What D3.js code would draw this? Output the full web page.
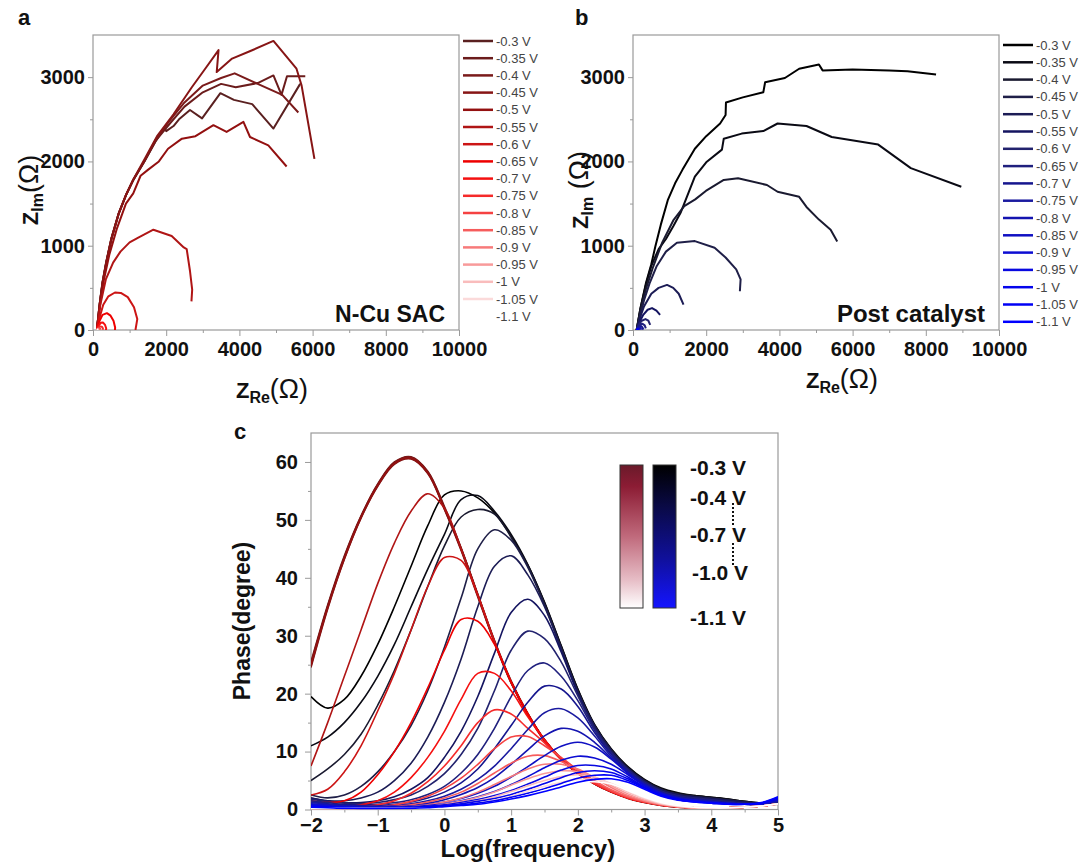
<!DOCTYPE html>
<html><head><meta charset="utf-8">
<script src="https://cdn.jsdelivr.net/npm/d3@7"></script>
<style>body{margin:0;background:#fff}</style>
</head><body><svg id="chart" width="1082" height="864"></svg>
<script>
// ---------------- DATA ----------------
const voltLabels = ["-0.3 V","-0.35 V","-0.4 V","-0.45 V","-0.5 V","-0.55 V","-0.6 V","-0.65 V","-0.7 V","-0.75 V","-0.8 V","-0.85 V","-0.9 V","-0.95 V","-1 V","-1.05 V","-1.1 V"];
const redColors = ["#5a2020","#6b1c1c","#7a1a1a","#871515","#931010","#b01515","#cc1515","#ee0000","#f51010","#f52a2a","#f54242","#f65c5c","#f77a7a","#f89a9a","#f9bcbc","#fbdada","#ffffff"];
const blueColors = ["#000000","#0a0a14","#1a1a30","#1f1f48","#1c1c55","#141460","#22226e","#20207e","#16168e","#1a1aa0","#1414b0","#1010c2","#0c0cd2","#0808e0","#0505ec","#0000f5","#0000ff"];

const zReTicks = [0,2000,4000,6000,8000,10000];
const zReMinor = [1000,3000,5000,7000,9000];
const zImTicks = [0,1000,2000,3000];
const zImMinor = [500,1500,2500];

// Nyquist, N-Cu SAC : [Z_Re, Z_Im] per potential
const nyquistA = [
 [[110,20],[180,300],[260,560],[360,800],[500,1080],[700,1380],[900,1600],[1100,1780],[1400,2000],[1700,2230],[1950,2400],[2000,2360],[2200,2420],[2350,2500],[2650,2610],[2980,2510],[3480,2810],[3850,2730],[4350,2680],[4930,2390],[5660,2920]],
 [[110,20],[185,310],[265,570],[370,810],[510,1090],[710,1390],[910,1610],[1110,1790],[1420,2010],[1720,2250],[2100,2450],[2500,2650],[3000,2820],[3500,2920],[3900,2880],[4500,2930],[4930,3020],[5150,2790],[5300,3010],[5800,3010]],
 [[110,20],[180,300],[255,555],[355,795],[495,1075],[695,1375],[895,1595],[1095,1775],[1395,1995],[1700,2250],[2050,2460],[2500,2700],[3000,2900],[3500,2990],[3870,3045],[4500,2920],[5170,2790],[5610,2580]],
 [[110,20],[185,310],[265,565],[365,805],[505,1085],[705,1385],[905,1605],[1105,1790],[1400,2020],[1750,2300],[2200,2560],[2700,2880],[3100,3120],[3430,3320],[3380,3060],[3800,3220],[4300,3310],[4930,3430],[5560,3100],[5700,2900],[6050,2030]],
 [[110,20],[200,320],[300,600],[450,900],[650,1200],[900,1500],[1100,1620],[1300,1830],[1500,1900],[1800,2000],[2050,2150],[2430,2270],[2800,2300],[3290,2430],[3650,2350],[4110,2470],[4290,2290],[4790,2190],[5290,1940]],
 [[110,20],[200,300],[350,600],[550,800],[750,930],[1000,1040],[1250,1100],[1650,1190],[2150,1115],[2480,980],[2560,960],[2650,700],[2710,480],[2690,340]],
 [[110,20],[180,150],[280,300],[420,400],[600,445],[760,440],[950,390],[1120,270],[1210,130],[1160,0]],
 [[110,10],[170,100],[260,180],[380,200],[480,170],[560,110],[605,30],[600,0]],
 [[110,5],[150,50],[210,85],[270,90],[330,60],[360,20],[355,0]],
 [[110,3],[140,25],[190,42],[240,40],[270,20],[270,2]],
 [[110,2],[130,15],[160,24],[190,18],[205,5]],
 [[110,1],[125,9],[145,14],[165,10],[175,2]],
 [[110,1],[120,6],[135,9],[150,6],[156,1]],
 [[110,1],[118,4],[130,6],[142,4],[146,1]],
 [[110,1],[116,3],[126,4],[136,3],[139,1]],
 [[110,1],[115,2],[123,3],[131,2],[133,1]],
 [[110,1],[114,2],[120,2],[126,2],[128,1]]
];

// Nyquist, post catalyst
const nyquistB = [
 [[100,0],[200,250],[350,550],[500,780],[610,990],[760,1250],[950,1540],[1150,1740],[1350,1900],[1690,2150],[2000,2300],[2380,2450],[2530,2550],[2540,2700],[3000,2760],[3560,2820],[3610,2940],[4150,2990],[4540,3100],[5080,3150],[5180,3080],[6000,3090],[7000,3080],[7500,3070],[8280,3030]],
 [[100,0],[200,250],[350,530],[500,760],[700,960],[900,1080],[1100,1230],[1300,1390],[1690,1820],[2000,1990],[2430,2140],[2480,2270],[2970,2330],[3560,2360],[3950,2450],[4740,2420],[5430,2290],[6700,2200],[7590,1920],[8970,1700]],
 [[100,0],[200,230],[350,480],[550,750],[800,1040],[1100,1300],[1400,1470],[1700,1550],[1990,1650],[2480,1780],[2870,1800],[3660,1720],[3950,1640],[4540,1580],[4740,1460],[5080,1310],[5400,1190],[5580,1050]],
 [[100,0],[180,150],[300,350],[450,550],[650,760],[900,930],[1200,1035],[1690,1055],[2230,975],[2530,860],[2820,720],[2940,600],[2920,460]],
 [[100,0],[180,130],[300,280],[500,430],[700,500],[930,535],[1100,500],[1250,430],[1380,300]],
 [[100,0],[170,90],[280,180],[400,240],[520,260],[640,230],[740,180]],
 [[100,0],[150,60],[240,110],[340,130],[420,110],[470,60]],
 [[100,0],[140,40],[200,70],[260,75],[320,55],[350,20]],
 [[100,0],[130,25],[170,45],[220,48],[260,30],[280,5]],
 [[100,0],[125,18],[160,30],[195,30],[220,15],[225,3]],
 [[100,0],[120,12],[145,20],[170,18],[190,6]],
 [[100,0],[117,9],[138,15],[158,13],[172,4]],
 [[100,0],[115,7],[132,11],[150,9],[160,3]],
 [[100,0],[113,5],[127,8],[142,7],[150,2]],
 [[100,0],[111,4],[123,6],[136,5],[142,2]],
 [[100,0],[110,3],[120,5],[131,4],[136,1]],
 [[100,0],[109,2],[117,4],[127,3],[131,1]]
];

// Bode phase: common log(frequency) grid
const logFreq = [-2,-1.75,-1.5,-1.25,-1,-0.75,-0.5,-0.25,0,0.25,0.5,0.75,1,1.25,1.5,1.75,2,2.25,2.5,2.75,3,3.25,3.5,3.75,4,4.25,4.5,4.75,5];
const phaseTicks = [0,10,20,30,40,50,60];
const phaseMinor = [5,15,25,35,45,55];
const logTicks = [-2,-1,0,1,2,3,4,5];
const logMinor = [-1.5,-0.5,0.5,1.5,2.5,3.5,4.5];

const phaseRed = [
 [25,35,43.5,50.5,56,59.8,60.7,58.2,52,45,37,29,22,16.5,12,8.7,6.3,4.5,3.1,2,1.3,0.8,0.5,0.3,0.3,0.3,0.4,0.6,1.0],
 [25.5,35.3,43.8,50.7,56.2,60,60.9,58.4,52.3,45.2,37.2,29.2,22.2,16.6,12.1,8.8,6.4,4.6,3.2,2.1,1.3,0.8,0.5,0.3,0.3,0.3,0.4,0.7,1.1],
 [24.5,34.6,43.2,50.3,55.8,59.6,60.5,58,51.8,44.7,36.7,28.8,21.8,16.3,11.8,8.6,6.2,4.4,3,1.9,1.2,0.7,0.4,0.3,0.3,0.3,0.4,0.6,1.0],
 [25.2,35.1,43.6,50.6,56.1,59.9,60.8,58.3,52.1,45.1,37.1,29.1,22.1,16.5,12,8.7,6.3,4.5,3.1,2,1.3,0.8,0.5,0.3,0.3,0.3,0.4,0.6,0.9],
 [24.8,34.8,43.3,50.4,55.9,59.7,60.6,58.1,51.9,44.9,36.9,28.9,21.9,16.4,11.9,8.6,6.2,4.4,3,2,1.2,0.7,0.4,0.3,0.3,0.3,0.4,0.6,1.0],
 [7.5,15,23,31,39,46,51.5,54.5,52,45,37,29,22,16.5,12,8.7,6.3,4.5,3.1,2,1.3,0.8,0.5,0.3,0.3,0.3,0.4,0.6,1.0],
 [2.5,3.5,6.5,11,17,23.5,31,38.5,43.5,43,37,29,22,16.5,12,8.7,6.3,4.5,3.1,2,1.3,0.8,0.5,0.3,0.3,0.3,0.4,0.6,1.0],
 [1.5,1.2,1.5,3,6,10,15,21,27.5,32.8,32.5,28.5,22,16.5,12,8.7,6.3,4.5,3.1,2,1.3,0.8,0.5,0.3,0.3,0.3,0.4,0.6,1.0],
 [0.8,0.6,0.5,0.8,1.5,3,5.5,9,13.5,19,23.5,23.5,20.5,16,12,8.7,6.3,4.5,3.1,2,1.3,0.8,0.5,0.3,0.3,0.3,0.4,0.6,1.0],
 [0.5,0.4,0.3,0.4,0.8,1.5,2.8,4.8,7.5,11,15,17.2,16.5,14,11.5,8.7,6.3,4.5,3.1,2,1.3,0.8,0.5,0.3,0.3,0.3,0.4,0.6,1.0],
 [0.3,0.3,0.2,0.3,0.4,0.8,1.4,2.3,3.6,5.4,7.8,10.5,12.5,12.6,11,9,6.8,4.8,3.2,2.1,1.3,0.8,0.5,0.3,0.3,0.3,0.4,0.6,1.0],
 [0.2,0.2,0.2,0.2,0.3,0.5,0.8,1.3,2,3,4.5,6.3,8,9.2,9.3,8.3,6.8,5,3.4,2.2,1.4,0.8,0.5,0.3,0.3,0.3,0.4,0.6,1.0],
 [0.2,0.2,0.2,0.2,0.2,0.3,0.5,0.8,1.3,2,3,4.3,5.7,7,7.8,7.8,7,5.5,3.8,2.4,1.5,0.9,0.5,0.3,0.3,0.3,0.4,0.6,1.0],
 [0.2,0.2,0.2,0.2,0.2,0.2,0.3,0.5,0.9,1.4,2.1,3,4.2,5.3,6.2,6.7,6.5,5.6,4.1,2.7,1.6,0.9,0.5,0.3,0.3,0.3,0.4,0.6,1.0],
 [0.2,0.2,0.2,0.2,0.2,0.2,0.2,0.3,0.6,1,1.5,2.2,3.1,4.1,5,5.7,6,5.6,4.4,3,1.8,1,0.6,0.3,0.3,0.3,0.4,0.6,1.0],
 [0.2,0.2,0.2,0.2,0.2,0.2,0.2,0.2,0.4,0.7,1.1,1.6,2.3,3.2,4,4.7,5.2,5.2,4.5,3.2,2,1.1,0.6,0.4,0.3,0.3,0.4,0.6,1.0],
 [0.2,0.2,0.2,0.2,0.2,0.2,0.2,0.2,0.3,0.5,0.8,1.2,1.8,2.5,3.3,4,4.6,4.8,4.4,3.3,2.1,1.2,0.7,0.4,0.3,0.3,0.4,0.6,1.0]
];

const phaseBlue = [
 [19.5,17.5,19,23,28.5,35,42,49,54.3,55,53.8,51.2,47.2,42.2,35.7,28.2,20.7,14.6,10.4,7.3,5.1,3.6,2.8,2.4,2.1,1.8,1.4,1.1,0.9],
 [11,12.5,15,18.5,23,28.5,35,41.5,47.5,53.5,54.2,51.5,47.5,42.3,35.8,28.3,20.8,14.7,10.5,7.4,5.2,3.7,2.9,2.4,2.1,1.8,1.4,1.1,0.9],
 [5,7,9.5,13,18,24,31,38.5,45.5,50.5,51.8,51,47,42,35.5,28,20.5,14.5,10.3,7.2,5,3.5,2.7,2.3,2,1.7,1.3,1.0,0.9],
 [2.5,2,2.5,4,6.5,10,14.5,20.5,28,36.5,45,48.3,46.5,41.8,35.3,27.8,20.3,14.4,10.2,7.1,4.9,3.4,2.6,2.2,1.9,1.6,1.3,1.0,0.9],
 [2,1.5,1.5,2,3,5,8,12.5,18.5,26,35,42,43.8,40.5,35,27.7,20.2,14.3,10.1,7,4.9,3.4,2.6,2.2,1.9,1.6,1.3,1.0,1.0],
 [2,1.5,1.2,1.2,1.5,2.2,3.5,5.5,9,13.5,19.5,27,34,36.3,33.5,27.2,20,14.2,10,7,4.8,3.3,2.5,2.1,1.8,1.5,1.2,1.0,1.1],
 [1.8,1.4,1.1,1,1.2,1.7,2.5,4,6.2,9.5,14,20.5,27.5,30.8,29.5,25.5,19.6,14,9.9,6.9,4.7,3.2,2.4,2,1.7,1.4,1.1,1.0,1.2],
 [1.5,1.2,0.9,0.8,0.9,1.2,1.7,2.6,4,6.3,9.5,14,19.5,24,25.3,23,18.8,13.7,9.7,6.8,4.6,3.1,2.3,1.9,1.6,1.3,1.0,0.9,1.3],
 [1.3,1,0.8,0.7,0.7,0.9,1.3,2,3,4.6,7,10.5,14.5,18.5,21.3,20.8,17.8,13.3,9.5,6.6,4.5,3,2.2,1.8,1.5,1.2,1.0,0.9,1.4],
 [1.2,0.9,0.7,0.6,0.6,0.7,1,1.5,2.3,3.5,5.2,7.5,10.5,13.8,16.7,17.4,15.8,12.7,9.2,6.5,4.4,2.9,2.1,1.7,1.4,1.1,0.9,0.9,1.5],
 [1,0.8,0.6,0.5,0.5,0.6,0.8,1.1,1.7,2.6,3.8,5.5,7.8,10.3,12.7,14,13.5,11.6,8.9,6.3,4.3,2.8,2,1.6,1.3,1.1,0.9,0.9,1.6],
 [0.9,0.7,0.5,0.4,0.4,0.5,0.6,0.9,1.3,1.9,2.8,4,5.6,7.4,9.3,10.9,11.6,10.8,8.7,6.3,4.2,2.8,2,1.6,1.3,1.1,0.9,1.0,1.7],
 [0.8,0.6,0.4,0.3,0.3,0.4,0.5,0.7,1,1.5,2.2,3.1,4.3,5.7,7.2,8.5,9.2,8.9,7.8,6,4.1,2.7,1.9,1.5,1.2,1.0,0.9,1.0,1.8],
 [0.7,0.5,0.4,0.3,0.3,0.3,0.4,0.6,0.8,1.2,1.7,2.4,3.3,4.4,5.6,6.8,7.6,7.6,7,5.6,3.9,2.6,1.8,1.4,1.2,1.0,0.9,1.0,1.9],
 [0.6,0.4,0.3,0.2,0.2,0.3,0.3,0.5,0.7,1,1.4,1.9,2.6,3.5,4.5,5.5,6.4,6.7,6.4,5.3,3.8,2.5,1.7,1.4,1.1,1.0,0.9,1.1,2.0],
 [0.5,0.4,0.3,0.2,0.2,0.2,0.3,0.4,0.6,0.8,1.1,1.5,2.1,2.8,3.6,4.5,5.4,5.9,5.9,5,3.7,2.4,1.7,1.3,1.1,0.9,0.9,1.1,2.1],
 [0.4,0.3,0.2,0.2,0.2,0.2,0.2,0.3,0.5,0.7,0.9,1.3,1.8,2.4,3.1,3.9,4.7,5.2,5.3,4.7,3.5,2.3,1.6,1.3,1.1,0.9,0.9,1.2,2.2]
];

const cLegendLabels = ["-0.3 V","-0.4 V","-0.7 V","-1.0 V","-1.1 V"];

// ---------------- DRAWING ----------------
const FONT = "'Liberation Sans', Arial, Helvetica, sans-serif";
const AX = "#9a9a9a";
const svg = d3.select("#chart");
svg.append("rect").attr("width",1082).attr("height",864).attr("fill","#fff");

function styleAxis(g, fs){
  g.select(".domain").remove();
  g.selectAll(".tick line").attr("stroke", AX).attr("stroke-width",1);
  g.selectAll("text").attr("font-family",FONT).attr("font-weight","bold").attr("font-size",fs).attr("fill","#111");
}

function frame(x0,x1,yb,yt){
  svg.append("rect").attr("x",x0).attr("y",yt).attr("width",x1-x0).attr("height",yb-yt)
    .attr("fill","none").attr("stroke",AX).attr("stroke-width",1.2);
}

function nyquistPanel(opt){
  const x = d3.scaleLinear([0,10000],[opt.x0,opt.x1]);
  const y = d3.scaleLinear([0,3500],[330,35]);
  const cid = "clip"+opt.id;
  svg.append("clipPath").attr("id",cid).append("rect")
    .attr("x",opt.x0).attr("y",35).attr("width",opt.x1-opt.x0).attr("height",295);
  const gb = svg.append("g").attr("transform","translate(0,330)")
    .call(d3.axisBottom(x).tickValues(zReTicks).tickSize(6).tickPadding(6).tickFormat(d3.format("d")));
  styleAxis(gb,20);
  const gbm = svg.append("g").attr("transform","translate(0,330)")
    .call(d3.axisBottom(x).tickValues(zReMinor).tickSize(3).tickFormat(""));
  styleAxis(gbm,20);
  const gl = svg.append("g").attr("transform",`translate(${opt.x0},0)`)
    .call(d3.axisLeft(y).tickValues(zImTicks).tickSize(5).tickPadding(3).tickFormat(d3.format("d")));
  styleAxis(gl,20);
  const glm = svg.append("g").attr("transform",`translate(${opt.x0},0)`)
    .call(d3.axisLeft(y).tickValues(zImMinor).tickSize(3).tickFormat(""));
  styleAxis(glm,20);
  frame(opt.x0,opt.x1,330,35);
  const line = d3.line().x(d=>x(d[0])).y(d=>y(d[1]));
  const cg = svg.append("g").attr("clip-path",`url(#${cid})`);
  opt.data.forEach((pts,i)=>{
    cg.append("path").attr("d",line(pts)).attr("fill","none")
      .attr("stroke",opt.colors[i]).attr("stroke-width",2).attr("stroke-linejoin","round");
  });
  const lg = svg.append("g");
  voltLabels.forEach((lab,i)=>{
    const yy = opt.ly0 + i*opt.lstep;
    lg.append("line").attr("x1",opt.lx).attr("x2",opt.lx+30).attr("y1",yy).attr("y2",yy)
      .attr("stroke",opt.colors[i]).attr("stroke-width",2.5);
    lg.append("text").attr("x",opt.lx+33).attr("y",yy+4.5).text(lab)
      .attr("font-family",FONT).attr("font-size",13).attr("fill","#444");
  });
  svg.append("text").attr("x",opt.tagX).attr("y",25).text(opt.tag)
    .attr("font-family",FONT).attr("font-weight","bold").attr("font-size",22).attr("fill","#111");
  svg.append("text").attr("x",opt.x1-14).attr("y",322).attr("text-anchor","end").text(opt.name)
    .attr("font-family",FONT).attr("font-weight","bold").attr("font-size",opt.nameSize).attr("fill","#111");
  const xt = svg.append("text").attr("x",opt.xtX).attr("y",opt.xtY).attr("text-anchor","middle")
    .attr("font-family",FONT).attr("font-weight","bold").attr("fill","#111");
  xt.append("tspan").attr("font-size",22).text("Z");
  xt.append("tspan").attr("font-size",16).attr("dy",5).text("Re");
  xt.append("tspan").attr("font-size",27).attr("font-weight","normal").attr("dy",-5).text("(Ω)");
  const yt = svg.append("text").attr("transform",`translate(${opt.ytX},190) rotate(-90)`).attr("text-anchor","middle")
    .attr("font-family",FONT).attr("font-weight","bold").attr("fill","#111");
  yt.append("tspan").attr("font-size",22).text("Z");
  yt.append("tspan").attr("font-size",16).attr("dy",5).text("Im");
  yt.append("tspan").attr("font-size",27).attr("font-weight","normal").attr("dy",-5).text(opt.yGap ? " (Ω)" : "(Ω)");
}

nyquistPanel({id:"a",x0:93,x1:459,data:nyquistA,colors:redColors,lx:463,ly0:41,lstep:17.2,
  tag:"a",tagX:18,name:"N-Cu SAC",nameSize:23,xtX:272,xtY:398,ytX:38,yGap:false});
nyquistPanel({id:"b",x0:633,x1:999,data:nyquistB,colors:blueColors,lx:1003,ly0:45,lstep:17.3,
  tag:"b",tagX:575,name:"Post catalyst",nameSize:24,xtX:842,xtY:388,ytX:588,yGap:true});

// ---------- panel c ----------
const xC = d3.scaleLinear([-2,5],[311,778]);
const yC = d3.scaleLinear([0,65],[809.5,433]);
svg.append("clipPath").attr("id","clipc").append("rect")
  .attr("x",311).attr("y",433).attr("width",467).attr("height",376.5);
{
  const gb = svg.append("g").attr("transform","translate(0,809.5)")
    .call(d3.axisBottom(xC).tickValues(logTicks).tickSize(6).tickPadding(2).tickFormat(d3.format("d")));
  styleAxis(gb,20);
  const gbm = svg.append("g").attr("transform","translate(0,809.5)")
    .call(d3.axisBottom(xC).tickValues(logMinor).tickSize(3).tickFormat(""));
  styleAxis(gbm,20);
  const gl = svg.append("g").attr("transform","translate(311,0)")
    .call(d3.axisLeft(yC).tickValues(phaseTicks).tickSize(6).tickPadding(7).tickFormat(d3.format("d")));
  styleAxis(gl,20);
  const glm = svg.append("g").attr("transform","translate(311,0)")
    .call(d3.axisLeft(yC).tickValues(phaseMinor).tickSize(3).tickFormat(""));
  styleAxis(glm,20);
  frame(311,778,809.5,433);
}
const lineC = d3.line().x((d,i)=>xC(logFreq[i])).y(d=>yC(d)).curve(d3.curveCatmullRom.alpha(0.5));
const cg = svg.append("g").attr("clip-path","url(#clipc)");
for(let i=0;i<17;i++){
  cg.append("path").attr("d",lineC(phaseRed[i])).attr("fill","none").attr("stroke",redColors[i]).attr("stroke-width",1.6);
  cg.append("path").attr("d",lineC(phaseBlue[i])).attr("fill","none").attr("stroke",blueColors[i]).attr("stroke-width",1.6);
}
const defs = svg.append("defs");
const gr = defs.append("linearGradient").attr("id","gRed").attr("x1",0).attr("y1",0).attr("x2",0).attr("y2",1);
[["0%","#6a1a2a"],["15%","#8c1c34"],["50%","#c06a7c"],["80%","#e6bcc5"],["100%","#ffffff"]].forEach(s=>gr.append("stop").attr("offset",s[0]).attr("stop-color",s[1]));
const gbl = defs.append("linearGradient").attr("id","gBlue").attr("x1",0).attr("y1",0).attr("x2",0).attr("y2",1);
[["0%","#000000"],["30%","#0a0a48"],["65%","#10109a"],["100%","#1414ff"]].forEach(s=>gbl.append("stop").attr("offset",s[0]).attr("stop-color",s[1]));
svg.append("rect").attr("x",620).attr("y",465).attr("width",23).attr("height",143).attr("fill","url(#gRed)").attr("stroke","#333").attr("stroke-width",1);
svg.append("rect").attr("x",653).attr("y",465).attr("width",23).attr("height",143).attr("fill","url(#gBlue)").attr("stroke","#333").attr("stroke-width",1);
const cLabY = [468,498,535,573,618];
cLegendLabels.forEach((t,i)=>{
  svg.append("text").attr("x",i===3?692:690).attr("y",cLabY[i]+7).text(t)
    .attr("font-family",FONT).attr("font-weight","bold").attr("font-size",21).attr("fill","#111");
});
svg.append("line").attr("x1",733).attr("x2",733).attr("y1",503).attr("y2",527).attr("stroke","#111").attr("stroke-width",2).attr("stroke-dasharray","2,2");
svg.append("line").attr("x1",733).attr("x2",733).attr("y1",543).attr("y2",566).attr("stroke","#111").attr("stroke-width",2).attr("stroke-dasharray","2,2");

svg.append("text").attr("x",234).attr("y",439).text("c")
  .attr("font-family",FONT).attr("font-weight","bold").attr("font-size",22).attr("fill","#111");
svg.append("text").attr("x",xC(1.25)).attr("y",857).attr("text-anchor","middle").text("Log(frequency)")
  .attr("font-family",FONT).attr("font-weight","bold").attr("font-size",24).attr("fill","#111");
svg.append("text").attr("transform","translate(250,621) rotate(-90)").attr("text-anchor","middle").text("Phase(degree)")
  .attr("font-family",FONT).attr("font-weight","bold").attr("font-size",23).attr("fill","#111");
</script></body></html>
